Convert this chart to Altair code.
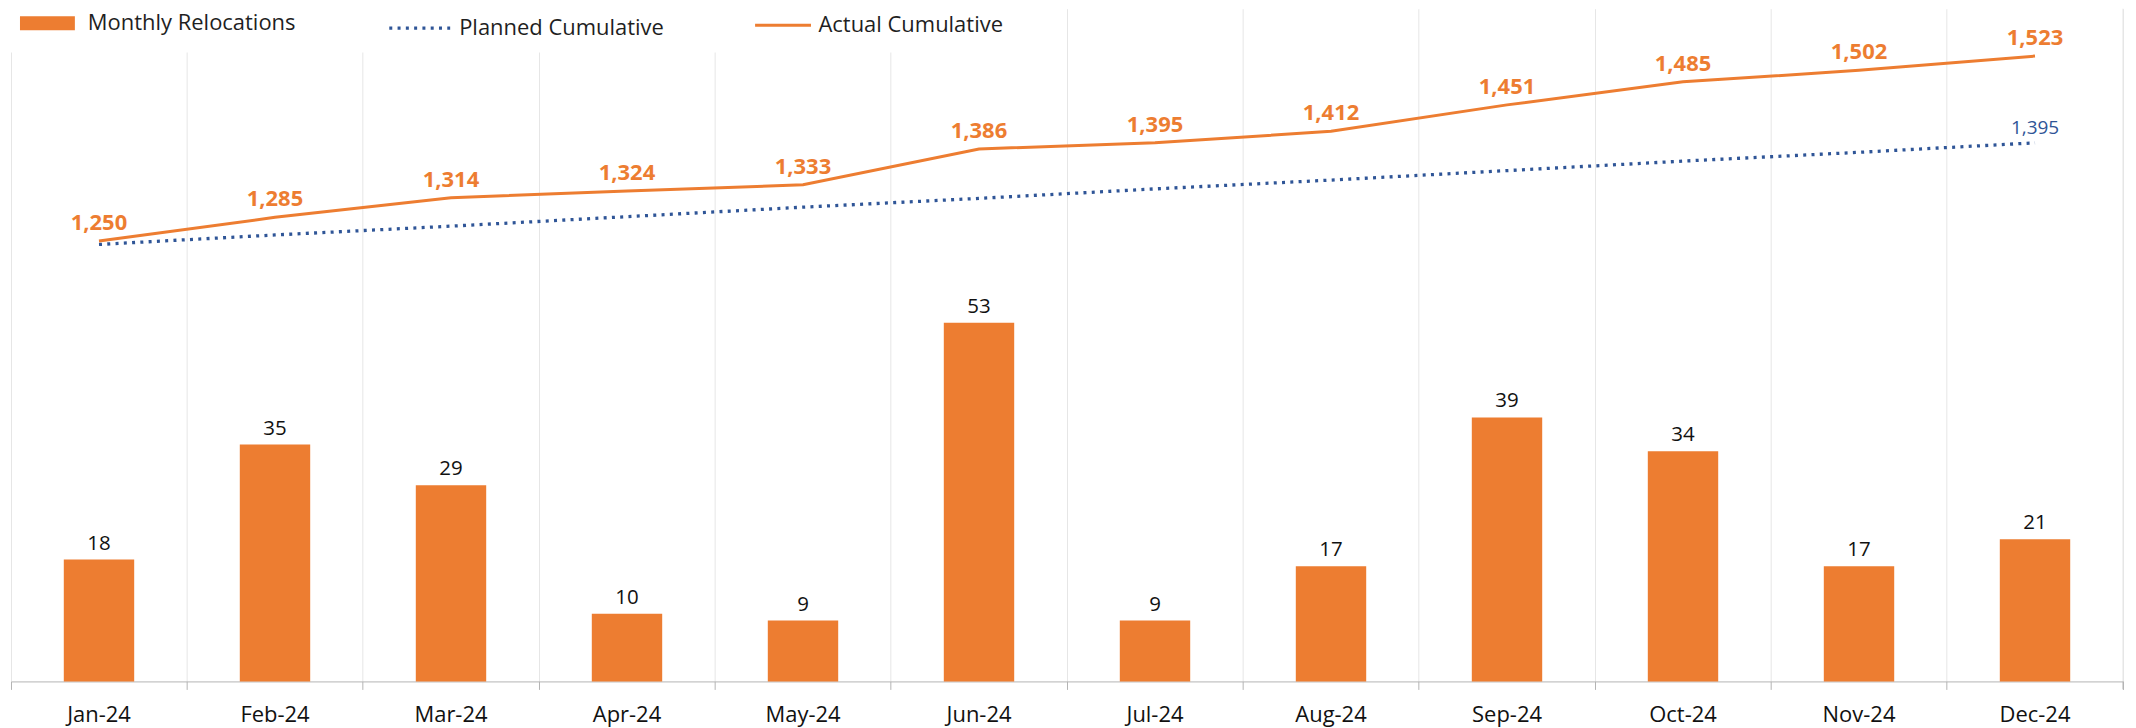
import altair as alt
import pandas as pd

months = ["Jan-24", "Feb-24", "Mar-24", "Apr-24", "May-24", "Jun-24",
          "Jul-24", "Aug-24", "Sep-24", "Oct-24", "Nov-24", "Dec-24"]
monthly = [18, 35, 29, 10, 9, 53, 9, 17, 39, 34, 17, 21]
planned = [1245, 1259, 1272, 1286, 1300, 1313, 1327, 1340, 1354, 1368, 1381, 1395]
actual = [1250, 1285, 1314, 1324, 1333, 1386, 1395, 1412, 1451, 1485, 1502, 1523]

df = pd.DataFrame({"month": months, "monthly": monthly,
                   "planned": planned, "actual": actual})

W, H = 2116, 674
ORANGE = "#ED7D31"
BLUE = "#2F5597"
FONT = "Open Sans"
GRID = "#E6E6E6"
AXISC = "#B4B4B4"

x = alt.X("month:N", sort=months,
          scale=alt.Scale(paddingInner=0, paddingOuter=0),
          axis=alt.Axis(title=None, bandPosition=1, tickExtra=True,
                        labelOffset=0, grid=True, gridColor=GRID,
                        gridWidth=1, domainColor=AXISC, tickColor=AXISC,
                        tickSize=8, labelAngle=0, labelFont=FONT,
                        labelFontSize=22, labelColor="#111111",
                        labelPadding=15))

ybar = alt.Y("monthly:Q", scale=alt.Scale(domain=[0, 99.4]), axis=None)
yline_scale = alt.Scale(domain=[600, 1593])

base = alt.Chart(df)

leg_common = dict(orient="none", direction="horizontal", title=None,
                  labelFont=FONT, labelFontSize=22, labelColor="#1F1F1F",
                  labelLimit=0, padding=0)

bars = base.mark_bar(width=alt.RelativeBandSize(0.4)).encode(
    x=x, y=ybar,
    color=alt.Color("s:N",
                    scale=alt.Scale(domain=["Monthly Relocations"], range=[ORANGE]),
                    legend=alt.Legend(symbolType="M-1,-0.255H1V0.255H-1Z",
                                      symbolSize=3025, symbolStrokeWidth=0,
                                      labelOffset=13, legendX=9, legendY=-13,
                                      **leg_common))
).transform_calculate(s="'Monthly Relocations'")

bar_text = base.mark_text(baseline="middle", dy=-16, fontSize=20.5, font=FONT,
                          color="#111111").encode(
    x=x, y=ybar, text=alt.Text("monthly:Q"))

planned_line = base.mark_line(strokeWidth=3.3, strokeDash=[3, 5.3]).encode(
    x=x, y=alt.Y("planned:Q", scale=yline_scale, axis=None),
    color=alt.Color("s:N",
                    scale=alt.Scale(domain=["Planned Cumulative"], range=[BLUE]),
                    legend=alt.Legend(symbolType="stroke", symbolSize=3721,
                                      symbolStrokeWidth=3.3, symbolDash=[3, 5.3],
                                      labelOffset=7, legendX=377, legendY=-13,
                                      **leg_common))
).transform_calculate(s="'Planned Cumulative'")

planned_text = base.mark_text(baseline="middle", dy=-15, fontSize=19, font=FONT,
                              color=BLUE).encode(
    x=x, y=alt.Y("planned:Q", scale=yline_scale, axis=None),
    text=alt.Text("planned:Q", format=",")
).transform_filter(alt.datum.month == "Dec-24")

actual_line = base.mark_line(strokeWidth=3).encode(
    x=x, y=alt.Y("actual:Q", scale=yline_scale, axis=None),
    color=alt.Color("s:N",
                    scale=alt.Scale(domain=["Actual Cumulative"], range=[ORANGE]),
                    legend=alt.Legend(symbolType="stroke", symbolSize=3136,
                                      symbolStrokeWidth=3,
                                      labelOffset=6, legendX=744, legendY=-13,
                                      **leg_common))
).transform_calculate(s="'Actual Cumulative'")

actual_text = base.mark_text(baseline="middle", dy=-18, fontSize=22, font=FONT,
                             fontWeight="bold", color=ORANGE).encode(
    x=x, y=alt.Y("actual:Q", scale=yline_scale, axis=None),
    text=alt.Text("actual:Q", format=",")
)

one = alt.Data(values=[{"k": 1}])
legend_bg = alt.Chart(one).mark_rect(color="white").encode(
    x=alt.value(0), x2=alt.value(1000), y=alt.value(-8), y2=alt.value(44))
edge_grid = alt.Chart(one).mark_rule(color=GRID, strokeWidth=1).encode(
    x=alt.value(W), y=alt.value(0), y2=alt.value(H))
edge_tick = alt.Chart(one).mark_rule(color=AXISC, strokeWidth=1).encode(
    x=alt.value(W), y=alt.value(H), y2=alt.value(H + 8))

bar_layer = alt.layer(bars, bar_text)
line_layer = alt.layer(planned_line, planned_text, actual_line, actual_text
                       ).resolve_scale(color="independent")

chart = alt.layer(edge_grid, edge_tick, legend_bg, bar_layer, line_layer).resolve_scale(
    y="independent", color="independent"
).properties(
    width=W, height=H,
    autosize=alt.AutoSizeParams(type="none"),
    padding={"left": 3, "top": 0, "right": 5, "bottom": 46},
    background="white",
).configure_view(stroke=None)

chart.save("out.html", embed_options={"renderer": "svg", "actions": False})
